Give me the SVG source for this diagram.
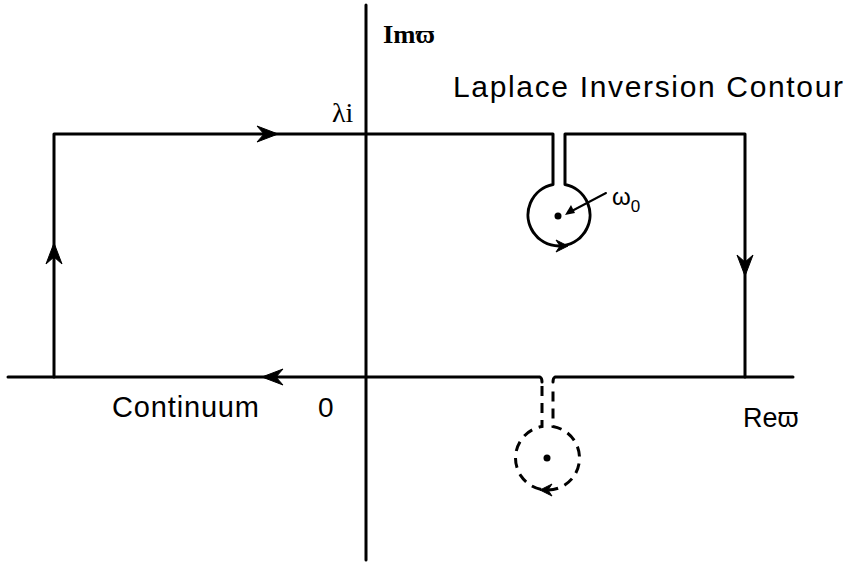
<svg xmlns="http://www.w3.org/2000/svg" width="848" height="563" viewBox="0 0 848 563">
<style>
.ln{fill:none;stroke:#000;stroke-width:3;stroke-linecap:round;stroke-linejoin:round}
.ds{fill:none;stroke:#000;stroke-width:3;stroke-dasharray:10,7}
.ah{fill:#000;stroke:#000;stroke-width:1;stroke-linejoin:round}
.sans{font-family:"Liberation Sans",Arial,sans-serif;fill:#000}
.serif{font-family:"Liberation Serif","Times New Roman",serif;fill:#000}
</style>
<defs>
<path id="arr" d="M0,0 L-21,-8 L-14,0 L-21,8 Z"/>
<path id="arrs" d="M0,0 L-12,-6 L-8,0 L-12,6 Z"/>
</defs>
<rect width="848" height="563" fill="#fff"/>
<g id="axes">
<line class="ln" x1="366" y1="5" x2="366" y2="560"/>
<path class="ln" d="M8,377 L540,377 Q542,378 542,382"/>
<path class="ln" d="M793,377 L555,377 Q553,378 553,382"/>
</g>
<g id="connectors">
<path class="ln" d="M54,377 L54,134 L553,134 L553,184.5 A31,31 0 1 0 565,184.5 L565,134 L745,134 L745,377"/>
<path class="ds" d="M542,386 L542,426.5 A32,32 0 1 0 553,426.5 L553,386"/>
<use href="#arr" class="ah" transform="translate(278,134)"/>
<use href="#arr" class="ah" transform="translate(54,243) rotate(-90)"/>
<use href="#arr" class="ah" transform="translate(745,276) rotate(90)"/>
<use href="#arr" class="ah" transform="translate(262,377) rotate(180)"/>
<use href="#arrs" class="ah" transform="translate(568,246)"/>
<use href="#arrs" class="ah" transform="translate(540,490) rotate(180)"/>
<line class="ln" x1="606" y1="193" x2="568" y2="213" style="stroke-width:2"/>
<path d="M565,215 L571,205 L575,213 Z" fill="#000"/>
</g>
<g id="pole-top">
<circle cx="558" cy="216" r="3.5" fill="#000"/>
</g>
<g id="pole-bottom">
<circle cx="547" cy="458" r="3.5" fill="#000"/>
</g>
<g id="labels">
<text class="serif" x="383" y="43" font-size="26" font-weight="bold" textLength="52" lengthAdjust="spacingAndGlyphs">Imϖ</text>
<text class="serif" x="332" y="122" font-size="28">λi</text>
<text class="sans" x="453" y="97" font-size="30" textLength="390" lengthAdjust="spacing">Laplace Inversion Contour</text>
<text class="sans" x="612" y="205" font-size="24">ω<tspan font-size="17" dy="7">0</tspan></text>
<text class="sans" x="112" y="417" font-size="29" textLength="147" lengthAdjust="spacing">Continuum</text>
<text class="sans" x="318" y="417" font-size="28">0</text>
<text class="sans" x="743" y="427" font-size="27">Reϖ</text>
</g>
</svg>
